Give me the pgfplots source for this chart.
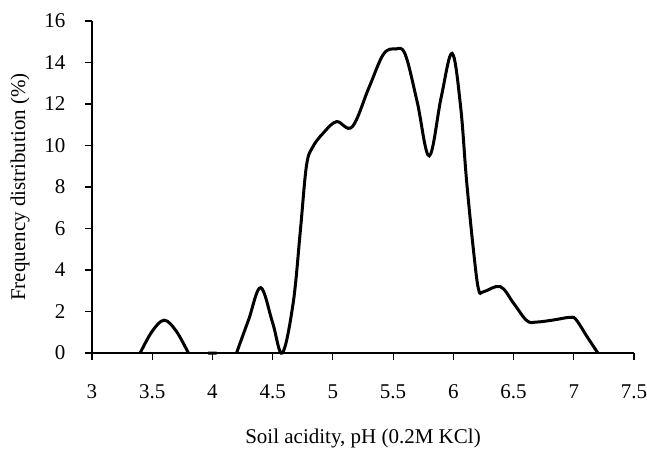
\documentclass[border=0pt]{standalone}
\usepackage{fontspec}
\setmainfont{Liberation Serif}
\usepackage{pgfplots}
\pgfplotsset{compat=1.18}

\begin{document}
\begin{tikzpicture}
% fixed page: 92pt left of the axis, 13pt right, 97pt below, 21pt above
\useasboundingbox (-92pt,-97pt) rectangle (555pt,353pt);
\begin{axis}[
    scale only axis,
    width=542pt, height=332pt,
    xmin=3, xmax=7.5,
    ymin=0, ymax=16,
    axis x line=bottom, axis y line=left,
    axis line style={-, line width=1.2pt, black},
    xtick={3,3.5,4,4.5,5,5.5,6,6.5,7,7.5},
    ytick={0,2,4,6,8,10,12,14,16},
    tick align=outside,
    major tick length=7pt,
    every tick/.append style={line width=1.2pt, black},
    /pgf/number format/assume math mode=true,
    every tick label/.append style={font=\fontsize{21}{24}\selectfont},
    every axis label/.append style={font=\fontsize{21}{24}\selectfont},
    xticklabel style={yshift=-21pt},
    yticklabel style={xshift=-16pt},
    xlabel={Soil acidity, pH (0.2M KCl)},
    ylabel={Frequency distribution (\%)},
    xlabel style={yshift=-23pt},
    ylabel style={yshift=8pt},
    unbounded coords=jump,
    clip=false,
]
\addplot [black, line width=3pt, smooth, tension=0.6] coordinates {
    (3.4,0) (3.5,1.05) (3.6,1.58) (3.7,1.05) (3.8,0)
    (3.9,nan)
    (3.965,0) (4.035,0)
    (4.1,nan)
    (4.2,0) (4.3,1.6) (4.4,3.15) (4.5,1.45) (4.58,0)
    (4.67,2.4) (4.73,5.9) (4.78,9.0) (4.83,9.9) (4.92,10.6)
    (5.03,11.15) (5.16,10.9) (5.3,12.8) (5.42,14.4) (5.52,14.65)
    (5.6,14.4) (5.7,12.1) (5.8,9.5) (5.9,12.35) (5.99,14.44)
    (6.06,11.9) (6.11,8.3) (6.17,4.8) (6.21,3.05) (6.25,2.95)
    (6.39,3.2) (6.5,2.4) (6.61,1.56) (6.69,1.49) (6.83,1.59)
    (6.97,1.72) (7.02,1.6) (7.11,0.79) (7.2,0)
};
\end{axis}
\end{tikzpicture}
\end{document}
